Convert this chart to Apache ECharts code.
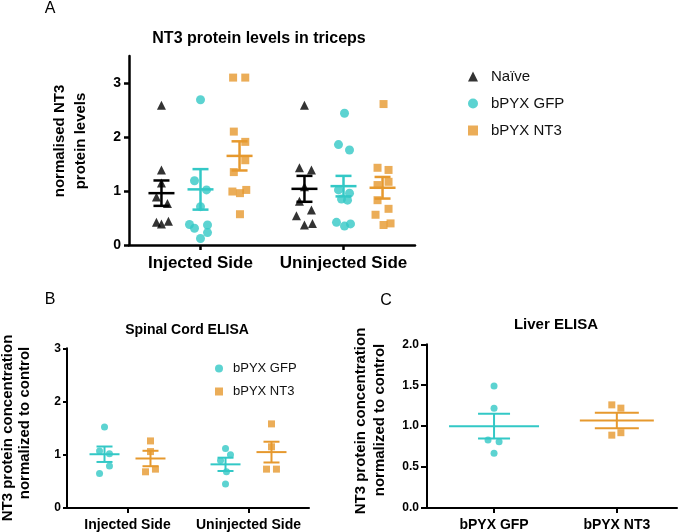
<!DOCTYPE html>
<html>
<head>
<meta charset="utf-8">
<script src="https://cdn.jsdelivr.net/npm/echarts@6/dist/echarts.min.js"></script>
<style>html,body{margin:0;padding:0;background:#fff}#c{width:678px;height:532px}</style>
</head>
<body>
<div id="c"></div>
<script>
// ---------- Panel A: NT3 protein levels in triceps ----------
const catsA = ['Injected Side', 'Uninjected Side'];
const groupsA = ['Naïve', 'bPYX GFP', 'bPYX NT3'];
const naiveInj = [2.59, 1.39, 1.15, 0.89, 0.77, 0.42, 0.39, 0.44];
const naiveUninj = [2.59, 1.43, 1.39, 1.08, 0.81, 0.65, 0.54, 0.37, 0.40];
const gfpInj = [2.69, 1.19, 1.02, 0.71, 0.38, 0.31, 0.12, 0.37, 0.23];
const gfpUninj = [2.44, 1.86, 1.76, 1.02, 0.96, 0.85, 0.83, 0.42, 0.35, 0.39];
const nt3Inj = [3.10, 3.10, 2.10, 1.91, 1.57, 1.35, 0.99, 0.96, 1.02, 0.57];
const nt3Uninj = [2.61, 1.43, 1.39, 1.17, 1.11, 0.83, 0.67, 0.56, 0.37, 0.40];
// mean and SEM as drawn (Injected, Uninjected)
const meanA = {naive: [0.96, 1.04], gfp: [1.03, 1.09], nt3: [1.65, 1.06]};
const semA = {naive: [0.235, 0.24], gfp: [0.375, 0.19], nt3: [0.27, 0.20]};
const yTicksA = [0, 1, 2, 3];

// ---------- Panel B: Spinal Cord ELISA ----------
const catsB = ['Injected Side', 'Uninjected Side'];
const bGfpInj = [1.52, 1.07, 1.02, 0.79, 0.65];
const bNt3Inj = [1.26, 1.06, 0.68, 0.73];
const bGfpUninj = [1.12, 1.00, 0.89, 0.68, 0.45];
const bNt3Uninj = [1.58, 1.15, 0.73, 0.73];
const meanB = {gfp: [1.01, 0.82], nt3: [0.93, 1.05]};
const semB = {gfp: [0.145, 0.125], nt3: [0.145, 0.195]};
const yTicksB = [0, 1, 2, 3];

// ---------- Panel C: Liver ELISA ----------
const catsC = ['bPYX GFP', 'bPYX NT3'];
const cGfp = [1.49, 1.22, 0.83, 0.81, 0.67];
const cNt3 = [1.26, 1.22, 0.89, 0.92];
const meanC = [1.00, 1.07];
const semC = [0.15, 0.095];
const yTicksC = [0, 0.5, 1.0, 1.5, 2.0];

// ---------- horizontal scatter spread of points (axis units) ----------
const jitNaiveInj = [0, 0, 0, -0.035, 0.042, -0.035, 0, 0.049];
const jitNaiveUninj = [0, -0.035, 0.049, 0, -0.035, 0.049, -0.056, 0, 0.056];
const jitGfpInj = [0, -0.042, 0.042, 0, -0.077, -0.042, 0, 0.049, 0.049];
const jitGfpUninj = [0.007, -0.035, 0.042, -0.035, 0.042, -0.014, 0.028, -0.049, 0.007, 0.049];
const jitNt3Inj = [-0.045, 0.04, -0.04, 0.04, 0.04, -0.04, -0.05, 0.003, 0.047, 0.003];
const jitNt3Uninj = [0.007, -0.035, 0.042, 0.042, -0.035, -0.035, 0.042, -0.049, 0.007, 0.056];
const jitBGfpInj = [0, -0.041, 0.041, 0.041, -0.041];
const jitBNt3Inj = [0, 0, -0.041, 0.041];
const jitBGfpUninj = [0, 0.041, -0.041, 0.008, 0];
const jitBNt3Uninj = [0, 0, -0.041, 0.041];
const jitCGfp = [0, 0, -0.049, 0.041, 0];
const jitCNt3 = [-0.041, 0.033, -0.041, 0.033];

const TEAL = '#33C8C6';
const ORANGE = '#E6992E';
const BLACK = '#000000';
const FONT = '"Liberation Sans", Arial, Helvetica, sans-serif';
const offA = [-0.273, 0, 0.273];
const offB = [-0.19, 0.19];

function pts(vals, jit, center) { return vals.map((v, i) => [center + jit[i], v]); }

function errRender(hw, cw, lw, colors) {
  return function (params, api) {
    const x = api.value(0), m = api.value(1), s = api.value(2), g = api.value(3);
    const c = api.coord([x, m]), t = api.coord([x, m + s]), b = api.coord([x, m - s]);
    const col = colors[g];
    const h = Array.isArray(hw) ? hw[g] : hw;
    const w = Array.isArray(cw) ? cw[g] : cw;
    const st = {stroke: col, lineWidth: lw};
    return {type: 'group', children: [
      {type: 'line', shape: {x1: c[0] - h, y1: c[1], x2: c[0] + h, y2: c[1]}, style: st},
      {type: 'line', shape: {x1: c[0], y1: t[1], x2: c[0], y2: b[1]}, style: st},
      {type: 'line', shape: {x1: c[0] - w, y1: t[1], x2: c[0] + w, y2: t[1]}, style: st},
      {type: 'line', shape: {x1: c[0] - w, y1: b[1], x2: c[0] + w, y2: b[1]}, style: st}
    ]};
  };
}

function xAxisCfg(grid, min, max, cats, fs, lw, margin) {
  return {
    type: 'value', gridIndex: grid, min: min, max: max,
    splitLine: {show: false},
    axisLine: {show: true, onZero: false, lineStyle: {color: BLACK, width: lw}},
    axisTick: {show: true, customValues: [0, 1], length: 5, lineStyle: {color: BLACK, width: lw}},
    axisLabel: {customValues: [0, 1], formatter: v => cats[Math.round(v)], fontSize: fs, fontWeight: 'bold',
      color: BLACK, fontFamily: FONT, margin: margin}
  };
}
function yAxisCfg(grid, min, max, ticks, fs, lw, len, margin, fmt) {
  return {
    type: 'value', gridIndex: grid, min: min, max: max,
    splitLine: {show: false},
    axisLine: {show: true, onZero: false, lineStyle: {color: BLACK, width: lw}},
    axisTick: {show: true, customValues: ticks, length: len, lineStyle: {color: BLACK, width: lw}},
    axisLabel: {customValues: ticks, formatter: fmt, fontSize: fs, fontWeight: 'bold', color: BLACK,
      fontFamily: FONT, margin: margin}
  };
}

const chart = echarts.init(document.getElementById('c'), null, {renderer: 'canvas'});

const errA = [];
['naive', 'gfp', 'nt3'].forEach((k, g) => {
  [0, 1].forEach(ci => errA.push([ci + offA[g], meanA[k][ci], semA[k][ci], g]));
});
const errB = [];
['gfp', 'nt3'].forEach((k, g) => {
  [0, 1].forEach(ci => errB.push([ci + offB[g], meanB[k][ci], semB[k][ci], g]));
});
const errC = [[0, meanC[0], semC[0], 0], [1, meanC[1], semC[1], 1]];

function txt(text, x, y, fs, bold, rot) {
  return {type: 'text', x: x, y: y, rotation: rot || 0, silent: true,
    style: {text: text, fill: BLACK, fontSize: fs, fontWeight: bold ? 'bold' : 'normal', fontFamily: FONT,
      textAlign: 'center', textVerticalAlign: 'middle'}};
}
const R = Math.PI / 2;

chart.setOption({
  animation: false,
  backgroundColor: '#fff',
  grid: [
    {left: 129, top: 56, width: 286, height: 189},
    {left: 67, top: 348.3, width: 242, height: 161},
    {left: 427, top: 344.3, width: 250, height: 164.7}
  ],
  xAxis: [
    xAxisCfg(0, -0.5, 1.5, catsA, 17, 2.5, 10),
    xAxisCfg(1, -0.5, 1.5, catsB, 14, 2, 10),
    xAxisCfg(2, -0.546, 1.49, catsC, 14, 2, 10)
  ],
  yAxis: [
    yAxisCfg(0, 0, 3.5, yTicksA, 14, 2.5, 5, 8, v => String(v)),
    yAxisCfg(1, 0, 3, yTicksB, 12, 2, 4, 6, v => String(v)),
    yAxisCfg(2, 0, 2, yTicksC, 12, 2, 6, 8, v => v.toFixed(1))
  ],
  legend: [
    {data: groupsA, orient: 'vertical', left: 463, top: 64, itemWidth: 10, itemHeight: 10, itemGap: 12,
      selectedMode: false, textStyle: {fontSize: 15, color: '#111', fontFamily: FONT, padding: [0, 0, 0, 8]}},
    {data: ['bPYX GFP', 'bPYX NT3'], orient: 'vertical', left: 210, top: 357, itemWidth: 8, itemHeight: 8, itemGap: 10,
      selectedMode: false, textStyle: {fontSize: 13, color: '#111', fontFamily: FONT, padding: [0, 0, 0, 5]}}
  ],
  graphic: [
    txt('A', 50, 9, 16, false),
    txt('B', 50, 300, 16, false),
    txt('C', 386, 301, 16, false),
    txt('NT3 protein levels in triceps', 259, 39, 16, true),
    txt('Spinal Cord ELISA', 187, 330, 14, true),
    txt('Liver ELISA', 556, 325, 15, true),
    txt('normalised NT3', 60, 141, 15, true, R),
    txt('protein levels', 81, 141, 15, true, R),
    txt('NT3 protein concentration', 8, 428, 15, true, R),
    txt('normalized to control', 25, 423, 15, true, R),
    txt('NT3 protein concentration', 361, 421, 15, true, R),
    txt('normalized to control', 380, 420, 15, true, R)
  ],
  series: [
    {type: 'scatter', name: 'Naïve', xAxisIndex: 0, yAxisIndex: 0, symbol: 'triangle', symbolSize: 9,
      itemStyle: {color: BLACK},
      data: pts(naiveInj, jitNaiveInj, 0 + offA[0]).concat(pts(naiveUninj, jitNaiveUninj, 1 + offA[0]))},
    {type: 'scatter', name: 'bPYX GFP', xAxisIndex: 0, yAxisIndex: 0, symbol: 'circle', symbolSize: 9,
      itemStyle: {color: TEAL},
      data: pts(gfpInj, jitGfpInj, 0 + offA[1]).concat(pts(gfpUninj, jitGfpUninj, 1 + offA[1]))},
    {type: 'scatter', name: 'bPYX NT3', xAxisIndex: 0, yAxisIndex: 0, symbol: 'rect', symbolSize: 8,
      itemStyle: {color: ORANGE},
      data: pts(nt3Inj, jitNt3Inj, 0 + offA[2]).concat(pts(nt3Uninj, jitNt3Uninj, 1 + offA[2]))},
    {type: 'custom', name: 'semA', xAxisIndex: 0, yAxisIndex: 0, z: 5,
      renderItem: errRender(13, 8, 2.5, [BLACK, TEAL, ORANGE]), data: errA, encode: {x: 0, y: 1}},

    {type: 'scatter', name: 'bPYX GFP', xAxisIndex: 1, yAxisIndex: 1, symbol: 'circle', symbolSize: 7,
      itemStyle: {color: TEAL},
      data: pts(bGfpInj, jitBGfpInj, 0 + offB[0]).concat(pts(bGfpUninj, jitBGfpUninj, 1 + offB[0]))},
    {type: 'scatter', name: 'bPYX NT3', xAxisIndex: 1, yAxisIndex: 1, symbol: 'rect', symbolSize: 7,
      itemStyle: {color: ORANGE},
      data: pts(bNt3Inj, jitBNt3Inj, 0 + offB[1]).concat(pts(bNt3Uninj, jitBNt3Uninj, 1 + offB[1]))},
    {type: 'custom', name: 'semB', xAxisIndex: 1, yAxisIndex: 1, z: 5,
      renderItem: errRender(15, 8, 2, [TEAL, ORANGE]), data: errB, encode: {x: 0, y: 1}},

    {type: 'scatter', name: 'bPYX GFP', xAxisIndex: 2, yAxisIndex: 2, symbol: 'circle', symbolSize: 7,
      itemStyle: {color: TEAL}, data: pts(cGfp, jitCGfp, 0)},
    {type: 'scatter', name: 'bPYX NT3', xAxisIndex: 2, yAxisIndex: 2, symbol: 'rect', symbolSize: 7,
      itemStyle: {color: ORANGE}, data: pts(cNt3, jitCNt3, 1)},
    {type: 'custom', name: 'semC', xAxisIndex: 2, yAxisIndex: 2, z: 5,
      renderItem: errRender([45, 37], [16, 22], 2, [TEAL, ORANGE]), data: errC, encode: {x: 0, y: 1}}
  ]
});
</script>
</body>
</html>
